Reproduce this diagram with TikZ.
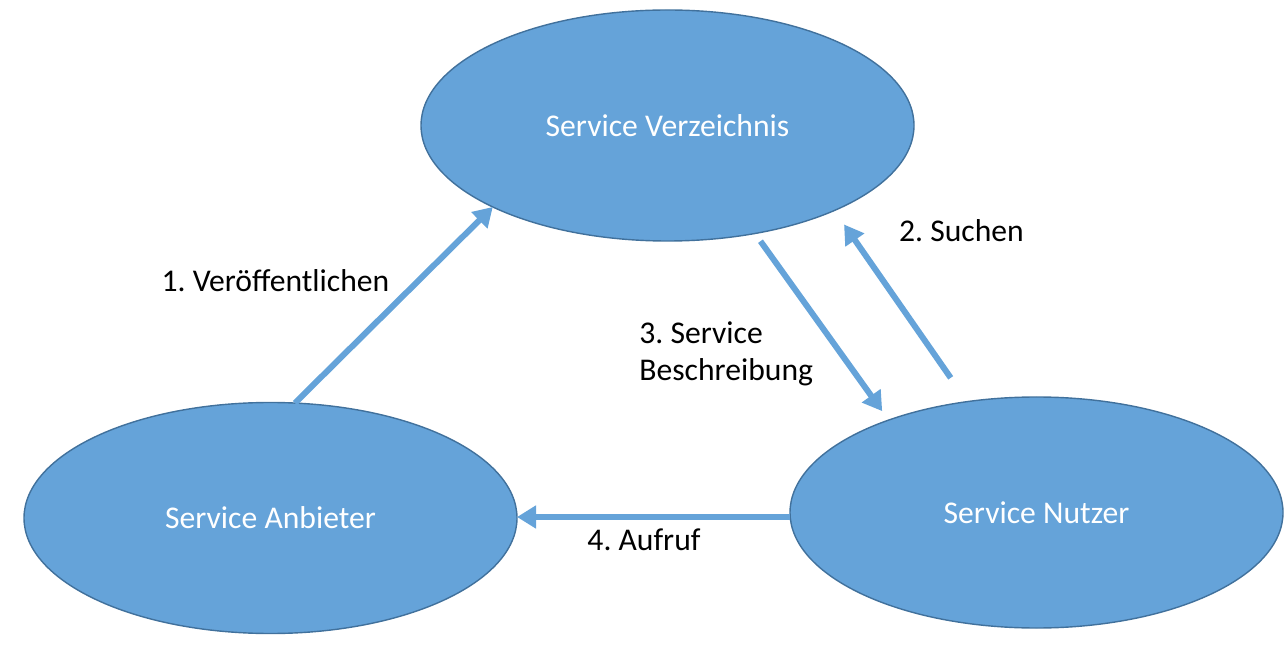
\documentclass[tikz,border=0pt]{standalone}
\usepackage{fontspec}
\setmainfont{Carlito}
\usetikzlibrary{arrows.meta,shapes.geometric}
\definecolor{blau}{HTML}{65A3D9}
\definecolor{rand}{HTML}{41719C}
\frenchspacing
\begin{document}
\begin{tikzpicture}[
  dienst/.style={ellipse,fill=blau,draw=rand,line width=0.8pt,outer sep=0pt,
    minimum width=9.86cm,minimum height=4.62cm,text=white},
  pfeil/.style={draw=blau,line width=0.12cm,
    -{Triangle[width=0.44cm,length=0.38cm]}},
  font=\fontsize{18}{21}\selectfont]
  \useasboundingbox (0,0) rectangle (25.76,12.96);
  \node (v) at (13.35,10.45) [dienst] {Service Verzeichnis};
  \node (a) at (5.41,2.6) [dienst] {Service Anbieter};
  \node (n) at (20.73,2.71) [dienst] {Service Nutzer};
  \node (t1) at (5.51,7.34) {1. Ver\"offentlichen};
  \node (t2) at (19.23,8.34) {2. Suchen};
  \node (t3) at (12.78,5.89) [anchor=west,align=left,inner sep=0pt] {3. Service\\Beschreibung};
  \node (t4) at (12.88,2.16) {4. Aufruf};
  \draw[pfeil] (a.78) to (v.205);
  \draw[pfeil,shorten <=0.58cm,shorten >=0.34cm] (n.122.5) to (v.333.5);
  \draw[pfeil,shorten <=0.19cm,shorten >=0.22cm] (v.309.6) to (n.148.7);
  \draw[pfeil] ([yshift=-0.09cm]n.west) to ([yshift=-0.09cm]n.west -| a.east);
\end{tikzpicture}
\end{document}
